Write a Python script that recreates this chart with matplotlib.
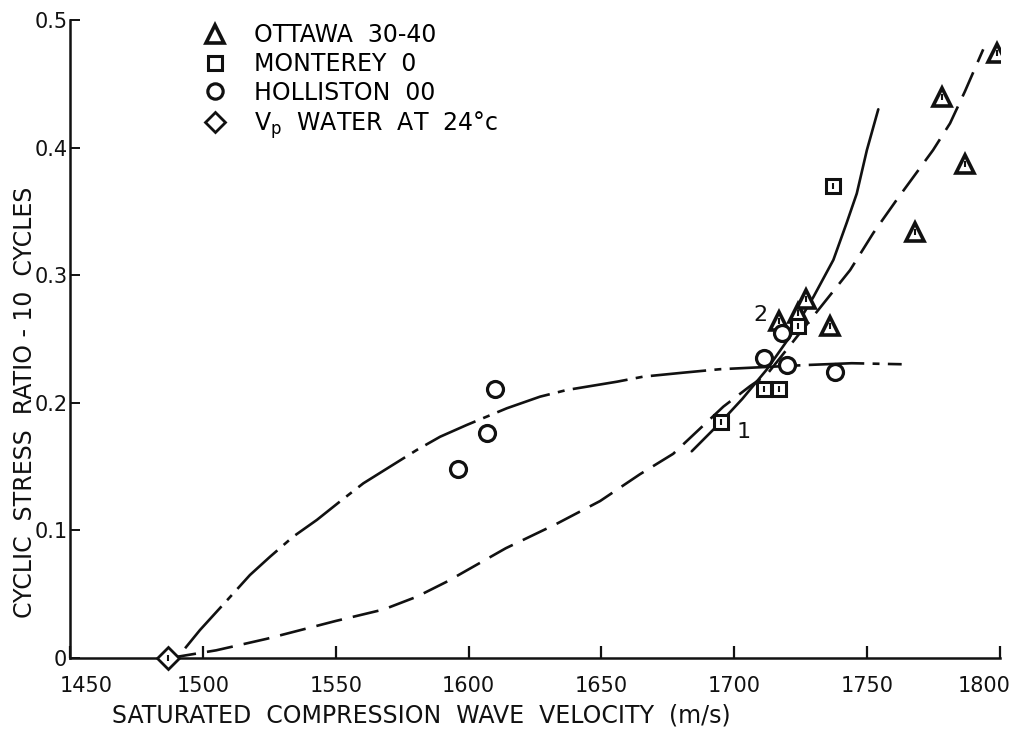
import matplotlib
matplotlib.use("Agg")
import matplotlib.pyplot as plt
from matplotlib.lines import Line2D
from matplotlib.transforms import ScaledTranslation

plt.rcParams['font.family'] = ['DejaVu Sans']
plt.rcParams['lines.scale_dashes'] = False

# measured points: wave velocity (m/s) vs cyclic stress ratio at 10 cycles
ottawa_v = [1717, 1724, 1727, 1736, 1768, 1778, 1787, 1799]
ottawa_csr = [0.264, 0.270, 0.281, 0.260, 0.334, 0.440, 0.387, 0.474]

monterey_v = [1695, 1711, 1717, 1724, 1737]
monterey_csr = [0.185, 0.211, 0.211, 0.260, 0.370]

holliston_v = [1596, 1607, 1610, 1711, 1718, 1720, 1738]
holliston_csr = [0.148, 0.176, 0.211, 0.235, 0.255, 0.230, 0.224]

water_v = [1487]
water_csr = [0.0]

# hand-fitted trend curves
monterey_fit_v = [1684, 1695, 1703, 1712.2, 1721, 1729.8, 1737.3, 1742.3, 1746.1, 1749.9, 1754.2]
monterey_fit_csr = [0.162, 0.185, 0.203, 0.226, 0.252, 0.283, 0.312, 0.341, 0.364, 0.398, 0.430]

ottawa_fit_v = [1487.6, 1505, 1524, 1537, 1550, 1568, 1580.5, 1592, 1614, 1633, 1649.5,
                1664.5, 1677, 1695.9, 1705.9, 1712.2, 1729.8, 1743.6, 1752.3, 1761.1,
                1774.8, 1781.2, 1786.8, 1793.7]
ottawa_fit_csr = [0.0, 0.006, 0.015, 0.022, 0.029, 0.038, 0.048, 0.060, 0.086, 0.105, 0.123,
                  0.144, 0.160, 0.197, 0.213, 0.222, 0.268, 0.304, 0.333, 0.359,
                  0.398, 0.419, 0.444, 0.477]

holliston_fit_v = [1493.3, 1498.9, 1505.2, 1511.5, 1517.7, 1525.3, 1534.0, 1542.9, 1552.3,
                   1560.4, 1570.4, 1580.5, 1589.3, 1599.3, 1614.4, 1626.9, 1636.9, 1655.8,
                   1665.8, 1680.8, 1694.6, 1727.3, 1744.2, 1763]
holliston_fit_csr = [0.0076, 0.0219, 0.0363, 0.0507, 0.065, 0.0794, 0.0951, 0.1082, 0.1238,
                     0.1369, 0.1499, 0.163, 0.1734, 0.1826, 0.1957, 0.2048, 0.210, 0.2165,
                     0.2205, 0.2236, 0.2263, 0.2296, 0.231, 0.2302]

x_ticks = [1450, 1500, 1550, 1600, 1650, 1700, 1750, 1800]
y_ticks = [0, 0.1, 0.2, 0.3, 0.4, 0.5]
y_tick_labels = ['0', '0.1', '0.2', '0.3', '0.4', '0.5']

INK = '#111111'

fig = plt.figure(figsize=(10.18, 7.35), dpi=100)
ax = fig.add_axes([0.0688, 0.1048, 0.9135, 0.868])

# curves
ax.plot(monterey_fit_v, monterey_fit_csr, color=INK, lw=1.9, solid_capstyle='round')
ax.plot(ottawa_fit_v, ottawa_fit_csr, color=INK, lw=1.9, dashes=(19, 8))
ax.plot(holliston_fit_v, holliston_fit_csr, color=INK, lw=1.9, dashes=(40, 6, 5, 6))

# data markers
mk = dict(ls='none', mfc='white', mec=INK, zorder=5)
ax.plot(ottawa_v, ottawa_csr, marker='^', ms=13, mew=2.6, **mk)
ax.plot(monterey_v, monterey_csr, marker='s', ms=10.5, mew=2.2, **mk)
ax.plot(holliston_v, holliston_csr, marker='o', ms=11.5, mew=2.3, **mk)
ax.plot(water_v, water_csr, marker='D', ms=11, mew=2.0, clip_on=False, **mk)

# small inner marks of the lettering template symbols
ax.plot(ottawa_v, ottawa_csr, marker='|', ms=4, mew=1.5, ls='none', color=INK, zorder=6)
ax.plot(monterey_v, monterey_csr, marker='|', ms=4, mew=1.5, ls='none', color=INK, zorder=6)
ax.plot(water_v, water_csr, marker='|', ms=4, mew=1.5, ls='none', color=INK, zorder=6,
        clip_on=False)

ax.text(1709.7, 0.2688, '2', fontsize=16, color=INK, ha='center', va='center')
ax.text(1703.4, 0.177, '1', fontsize=16, color=INK, ha='center', va='center')

ax.set_xlim(1450, 1800)
ax.set_ylim(0, 0.5)
ax.set_xticks(x_ticks)
ax.set_yticks(y_ticks)
ax.set_yticklabels(y_tick_labels)

for side in ['top', 'right']:
    ax.spines[side].set_visible(False)
for side in ['left', 'bottom']:
    ax.spines[side].set_linewidth(1.8)
    ax.spines[side].set_color(INK)

ax.tick_params(axis='x', direction='in', length=9, width=1.6, pad=13,
               labelsize=15, colors=INK)
ax.tick_params(axis='y', direction='in', length=7, width=1.4, pad=2,
               labelsize=15, colors=INK)

# end labels sit inside the axis ends
xlabels = ax.get_xticklabels()
xlabels[0].set_transform(xlabels[0].get_transform()
                         + ScaledTranslation(0.16, 0, fig.dpi_scale_trans))
xlabels[-1].set_transform(xlabels[-1].get_transform()
                          + ScaledTranslation(-0.16, 0, fig.dpi_scale_trans))

fig.text(0.414, 0.027, 'SATURATED  COMPRESSION  WAVE  VELOCITY  (m/s)',
         fontsize=17, color=INK, ha='center', va='center')
fig.text(0.0246, 0.453, 'CYCLIC  STRESS  RATIO - 10  CYCLES',
         fontsize=17, color=INK, ha='center', va='center', rotation=90)

handles = [
    Line2D([], [], marker='^', ms=13, mew=2.6, mfc='white', mec=INK, ls='none'),
    Line2D([], [], marker='s', ms=10.5, mew=2.2, mfc='white', mec=INK, ls='none'),
    Line2D([], [], marker='o', ms=11, mew=2.3, mfc='white', mec=INK, ls='none'),
    Line2D([], [], marker='D', ms=10, mew=2.0, mfc='white', mec=INK, ls='none'),
]
labels = ['OTTAWA  30-40', 'MONTEREY  0', 'HOLLISTON  00',
          r'V$_\mathrm{p}$  WATER  AT  24°c']
ax.legend(handles, labels, loc='upper left', bbox_to_anchor=(0.131, 1.01),
          frameon=False, fontsize=17, labelspacing=0.2, handletextpad=1.05,
          handlelength=1.2, borderaxespad=0)

fig.savefig('out.png', dpi=100, facecolor='white')
